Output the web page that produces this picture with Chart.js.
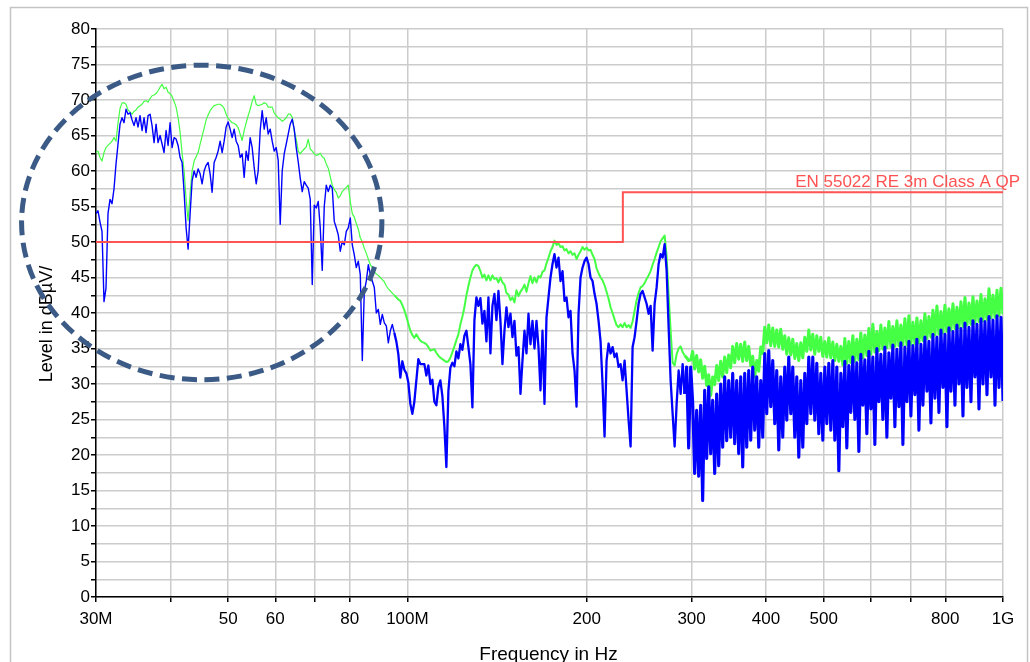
<!DOCTYPE html>
<html>
<head>
<meta charset="utf-8">
<script src="https://cdn.jsdelivr.net/npm/chart.js@4.4.1/dist/chart.umd.min.js"></script>
<style>
  html, body { margin: 0; padding: 0; background: #fff; overflow: hidden; }
  canvas { display: block; }
</style>
</head>
<body>
<canvas id="emc_chart" width="1030" height="662"></canvas>
<script>
/*
    data
        sweep 30 MHz .. 1 GHz, levels in dBuV/m
*/
const sweepStartMHz = 30;
const sweepStopMHz = 1000;

const xTickValues = [30, 40, 50, 60, 70, 80, 100, 200, 300, 400, 500, 600, 700, 800, 1000];
const xTickLabels = ['30M', '', '50', '60', '', '80', '100M', '200', '300', '400', '500', '', '', '800', '1G'];

const limitName = 'EN 55022 RE 3m Class A QP';
const limitFreqs = [30, 230, 230, 1000];
const limitLevels = [50, 50, 57, 57];

// dashed ring marking the low band (MHz / dB)
const ringFreqs = [22.5, 90.6];
const ringLevels = [30.6, 74.9];

const traceGreen = [
  62.6, 62.8, 61.9, 61.4, 62.6, 63.3, 63.6, 63.9, 64.2, 64.7,
  64.2, 66.8, 68.8, 69.6, 69.6, 69.4, 68.6, 68.3, 68.0, 68.4,
  68.6, 69.0, 69.2, 69.4, 69.8, 69.9, 69.7, 70.2, 70.6, 70.7,
  70.9, 71.3, 71.8, 72.2, 71.6, 71.8, 71.1, 70.9, 70.5, 69.8,
  69.0, 67.5, 65.5, 62.5, 60.0, 56.0, 53.0, 56.8, 60.0, 61.4,
  62.0, 62.6, 63.8, 64.9, 66.0, 67.2, 67.9, 68.5, 68.9, 69.2,
  69.3, 69.4, 69.4, 69.2, 68.8, 68.0, 67.4, 67.1, 66.8, 66.7,
  66.5, 66.1, 65.2, 64.3, 65.7, 66.8, 67.8, 68.7, 69.8, 70.6,
  69.4, 69.2, 69.3, 69.4, 69.6, 69.5, 69.0, 69.0, 69.0, 68.2,
  67.8, 67.5, 67.3, 67.0, 67.2, 67.5, 68.0, 68.0, 67.6, 65.7,
  64.5, 62.8, 62.4, 62.8, 63.1, 63.4, 64.5, 63.1, 62.8, 62.4,
  62.2, 62.3, 62.5, 62.0, 61.8, 61.0, 60.4, 59.2, 58.0, 57.4,
  57.0, 56.2, 56.5, 57.1, 57.4, 57.7, 58.0, 55.7, 54.0, 53.5,
  52.6, 51.8, 50.6, 50.0, 49.1, 48.4, 47.6, 46.8, 46.4, 45.8,
  45.5, 45.3, 45.0, 44.7, 44.4, 43.8, 43.4, 43.1, 42.8, 42.5,
  42.2, 41.9, 41.7, 41.1, 40.4, 39.5, 38.5, 37.5, 36.9, 36.5,
  37.0, 36.5, 36.1, 35.9, 35.8, 35.6, 35.2, 34.7, 34.8, 34.9,
  34.4, 34.0, 33.7, 33.5, 33.3, 33.1, 33.2, 33.7, 34.5, 35.3,
  36.2, 37.0, 38.4, 39.5, 40.8, 42.5, 43.8, 45.0, 46.0, 46.5,
  46.8, 46.6, 45.9, 45.0, 45.4, 44.6, 45.3, 44.6, 45.3, 44.8,
  44.9, 44.3, 45.0, 44.3, 44.0, 42.8, 42.6, 41.8, 42.2, 41.5,
  43.2, 42.4, 43.0, 43.4, 44.0, 43.0, 44.2, 45.2, 44.2, 45.0,
  44.3, 45.2, 45.0, 45.8, 46.0, 47.0, 47.8, 48.7, 49.3, 50.2,
  49.6, 49.8, 49.3, 49.4, 48.8, 49.0, 48.4, 48.7, 48.2, 48.4,
  47.6, 48.2, 48.7, 49.3, 48.9, 49.2, 48.8, 48.9, 48.2, 47.6,
  46.3, 45.6, 45.0, 44.6, 43.9, 43.0, 42.0, 40.8, 40.0, 39.1,
  38.3, 38.0, 38.4, 38.0, 38.6, 38.0, 38.3, 37.9, 38.8, 40.3,
  41.8, 42.8, 43.6, 43.8, 44.2, 44.8, 45.3, 45.9, 46.8, 47.6,
  48.5, 49.3, 50.1, 50.5, 50.9, 48.0, 42.5, 37.5, 33.0, 32.6,
  34.2, 35.0, 35.3, 34.5, 34.0, 33.7, 33.3, 33.4, 34.6, 32.1,
  34.0, 31.7, 33.4, 30.8, 32.5, 29.8, 31.3, 28.4, 31.0, 29.9,
  32.6, 30.5, 33.2, 31.0, 33.8, 31.6, 34.1, 32.3, 35.3, 33.0,
  35.7, 33.5, 35.6, 33.2, 35.9, 33.3, 35.3, 32.6, 33.9, 31.0,
  33.3, 31.8, 35.2, 34.3, 38.0, 35.8, 38.3, 35.4, 37.9, 35.3,
  37.6, 35.2, 37.7, 34.9, 36.8, 34.2, 36.5, 34.1, 36.3, 33.6,
  35.7, 33.3, 35.8, 33.7, 36.6, 34.6, 37.6, 34.8, 37.0, 34.2,
  36.8, 34.6, 36.6, 33.9, 36.0, 33.8, 36.5, 33.7, 35.9, 33.3,
  35.6, 33.2, 35.3, 32.7, 36.4, 32.9, 36.0, 33.0, 36.8, 33.2,
  36.3, 33.4, 37.2, 33.7, 36.9, 34.0, 37.8, 34.2, 38.4, 34.5,
  37.4, 34.7, 38.3, 34.9, 37.9, 35.1, 38.8, 35.2, 38.1, 35.3,
  38.9, 35.4, 38.3, 35.5, 39.2, 35.5, 39.6, 35.6, 38.7, 35.7,
  39.3, 35.8, 38.9, 36.1, 39.9, 36.4, 39.5, 36.6, 40.4, 36.9,
  41.0, 37.0, 40.2, 37.2, 41.1, 37.4, 40.6, 37.6, 41.3, 37.8,
  40.8, 37.9, 41.6, 38.1, 42.2, 38.3, 41.4, 38.4, 42.3, 38.6,
  41.7, 38.8, 42.6, 38.9, 42.0, 39.1, 43.4, 39.3, 42.5, 39.4,
  43.2, 39.6, 43.5, 39.8
];

const traceBlue = [
  54.0, 54.4, 52.8, 51.5, 41.6, 43.5, 54.0, 56.0, 55.4, 57.5,
  61.0, 63.8, 66.6, 67.5, 66.8, 68.7, 68.0, 68.2, 67.2, 66.4,
  67.5, 66.2, 67.8, 65.7, 67.5, 65.4, 67.8, 68.0, 66.4, 64.0,
  66.6, 64.0, 65.0, 63.8, 62.6, 65.7, 63.6, 66.8, 63.3, 64.7,
  64.5, 63.6, 61.9, 61.2, 57.0, 52.0, 49.0, 54.0, 58.6, 60.0,
  59.1, 60.3, 59.6, 58.2, 60.0, 60.8, 61.2, 59.6, 57.0, 61.2,
  61.9, 62.8, 64.2, 62.6, 64.2, 66.2, 66.9, 65.9, 64.7, 65.9,
  64.2, 63.6, 61.9, 62.4, 59.1, 62.8, 61.5, 64.7, 63.3, 60.5,
  58.2, 60.0, 65.7, 68.5, 65.9, 67.5, 65.2, 65.9, 64.2, 62.8,
  63.3, 61.5, 52.5, 60.0, 62.4, 63.8, 65.2, 66.6, 67.3, 65.9,
  63.3, 61.3, 59.0, 57.1, 58.5, 58.0, 57.6, 56.0, 44.0, 55.2,
  54.8, 55.7, 52.0, 46.0, 55.0, 58.0, 57.1, 58.0, 57.6, 52.9,
  52.0, 51.0, 48.7, 50.1, 49.6, 51.5, 52.0, 53.4, 49.6, 48.2,
  46.4, 47.3, 45.4, 33.3, 43.1, 44.5, 46.8, 45.4, 44.5, 43.6,
  40.0, 40.5, 38.4, 39.8, 38.6, 38.2, 35.8, 37.5, 38.4, 37.2,
  36.0, 34.2, 30.9, 33.2, 32.0, 31.5, 30.2, 27.2, 25.8, 27.5,
  30.5, 33.5, 32.8, 32.8, 32.8, 31.2, 32.6, 30.0, 30.6, 27.5,
  27.0, 29.6, 30.5, 28.3, 24.0, 18.3, 29.0, 32.3, 33.0, 32.5,
  34.6, 33.6, 35.6, 34.8, 36.8, 37.5, 35.2, 32.8, 26.7, 39.0,
  42.2, 41.0, 42.1, 38.5, 40.3, 36.0, 42.2, 34.3, 41.0, 42.7,
  39.0, 43.1, 38.9, 32.8, 37.5, 40.8, 38.0, 39.9, 36.6, 38.9,
  34.0, 35.2, 28.6, 33.3, 37.5, 34.3, 39.9, 35.6, 38.9, 35.0,
  38.9, 35.2, 29.1, 37.5, 27.2, 39.4, 42.2, 45.0, 46.9, 48.3,
  46.4, 47.8, 44.5, 45.9, 41.7, 42.2, 39.4, 40.3, 34.3, 31.9,
  26.8, 39.9, 45.0, 46.4, 47.3, 47.8, 46.9, 45.0, 44.5, 42.7,
  41.3, 38.9, 36.0, 30.0, 22.6, 33.3, 35.7, 34.3, 35.2, 33.8,
  34.3, 32.4, 32.8, 30.5, 33.3, 29.1, 24.9, 21.2, 35.2, 36.6,
  38.9, 41.3, 42.7, 43.1, 42.2, 41.3, 39.9, 41.0, 34.7, 41.3,
  43.6, 46.9, 48.3, 47.8, 49.7, 46.0, 38.0, 30.5, 25.8, 21.2,
  27.2, 31.9, 28.6, 32.8, 28.6, 32.4, 21.0, 32.4, 27.5, 17.4,
  26.3, 17.0, 27.0, 13.6, 29.1, 19.5, 29.6, 20.2, 27.7, 17.4,
  28.6, 18.5, 30.0, 21.1, 31.0, 22.0, 30.5, 22.5, 31.5, 21.6,
  30.5, 20.2, 31.0, 18.3, 31.5, 21.1, 31.9, 22.1, 32.4, 23.5,
  31.0, 21.1, 30.5, 22.5, 34.3, 25.8, 34.7, 26.8, 33.3, 24.4,
  31.9, 20.7, 31.0, 22.5, 32.4, 24.9, 33.8, 25.8, 32.4, 22.5,
  31.0, 19.7, 30.5, 21.1, 31.5, 24.4, 33.8, 25.8, 33.8, 24.9,
  32.9, 23.0, 31.5, 22.1, 32.4, 24.4, 32.9, 23.5, 33.3, 22.1,
  32.4, 17.8, 31.5, 24.0, 33.2, 21.0, 32.6, 26.0, 33.8, 25.0,
  33.0, 20.5, 34.2, 27.0, 33.4, 23.0, 34.6, 26.5, 33.8, 21.5,
  35.0, 27.5, 34.2, 25.0, 35.2, 22.5, 34.4, 28.0, 35.5, 24.0,
  34.9, 26.8, 35.8, 21.5, 35.2, 27.5, 36.0, 25.5, 35.4, 28.5,
  36.3, 23.5, 35.6, 27.0, 36.6, 29.0, 36.0, 24.5, 37.0, 28.0,
  36.6, 26.0, 37.6, 29.5, 37.0, 24.0, 37.9, 29.0, 37.4, 27.0,
  38.3, 30.0, 37.8, 25.5, 38.6, 29.5, 38.0, 27.5, 38.9, 31.0,
  38.4, 26.5, 39.2, 30.0, 38.8, 28.5, 39.5, 31.0, 39.0, 27.0,
  39.6, 29.5, 39.4, 27.6
];

const colorGreen = '#44ff44';
const colorBlue = '#0000ff';
const colorLimit = '#ff5252';
const fontFamily = '"Liberation Sans", Arial, sans-serif';

// above these frequencies the sweep is dense and the trace reads as a band
const busyFromMHz = 95;
const denseFromMHz = 290;

// receiver sweep: points evenly spaced on the log frequency axis
function fnc_sweep_points(levels){
    var points = [];
    var ratio = sweepStopMHz / sweepStartMHz;
    for(var i = 0; i < levels.length; i++){
        points.push({x: sweepStartMHz * Math.pow(ratio, i / (levels.length - 1)), y: levels[i]});
    }
    return points;
}

function fnc_pair_points(freqs, levels){
    var points = [];
    for(var i in freqs){
        points.push({x: freqs[i], y: levels[i]});
    }
    return points;
}

function fnc_trace_width(thin, busy, dense){
    return function(ctx){
        var f = ctx.p0.parsed.x;
        return f >= denseFromMHz ? dense : (f >= busyFromMHz ? busy : thin);
    };
}

var plugin_frame = {
    id: 'frame',
    beforeDraw: function(chart){
        var ctx = chart.ctx;
        ctx.save();
        ctx.fillStyle = '#ffffff';
        ctx.fillRect(0, 0, chart.width, chart.height);
        ctx.strokeStyle = '#c4c4c4';
        ctx.lineWidth = 1.5;
        ctx.strokeRect(10.5, 7.5, 1017, 700);
        ctx.restore();
    }
};

var plugin_marks = {
    id: 'marks',
    afterDraw: function(chart){
        var ctx = chart.ctx;
        var area = chart.chartArea;
        var xs = chart.scales.x;
        var ys = chart.scales.y;

        ctx.save();
        // limit name
        ctx.font = '17px ' + fontFamily;
        ctx.fillStyle = colorLimit;
        ctx.textAlign = 'right';
        ctx.textBaseline = 'alphabetic';
        ctx.fillText(limitName, area.right + 17, ys.getPixelForValue(limitLevels[limitLevels.length - 1]) - 5);

        // axis titles
        ctx.fillStyle = '#000000';
        ctx.textAlign = 'center';
        ctx.font = '19px ' + fontFamily;
        ctx.fillText('Frequency in Hz', (area.left + area.right) / 2 - 1, 660);
        ctx.font = '18px ' + fontFamily;
        ctx.translate(52, (area.top + area.bottom) / 2 + 11);
        ctx.rotate(-Math.PI / 2);
        ctx.fillText('Level in dB\u00b5V/', 0, 0);
        ctx.restore();

        // dashed ring
        var x1 = xs.getPixelForValue(ringFreqs[0]);
        var x2 = xs.getPixelForValue(ringFreqs[1]);
        var y1 = ys.getPixelForValue(ringLevels[0]);
        var y2 = ys.getPixelForValue(ringLevels[1]);
        ctx.save();
        ctx.strokeStyle = '#3b5b86';
        ctx.lineWidth = 5;
        ctx.setLineDash([15, 7.5]);
        ctx.beginPath();
        ctx.ellipse((x1 + x2) / 2, (y1 + y2) / 2, Math.abs(x2 - x1) / 2, Math.abs(y2 - y1) / 2, 0, 0, Math.PI * 2);
        ctx.stroke();
        ctx.restore();
    }
};

var tickFont = {family: fontFamily, size: 17};

var configuration = {
    type: 'line',
    data: {
        datasets: [
            {
                label: limitName,
                data: fnc_pair_points(limitFreqs, limitLevels),
                borderColor: colorLimit,
                borderWidth: 2,
                pointRadius: 0,
                order: 0
            },
            {
                label: 'blue',
                data: fnc_sweep_points(traceBlue),
                borderColor: colorBlue,
                borderWidth: 1.4,
                borderJoinStyle: 'round',
                segment: {borderWidth: fnc_trace_width(1.4, 2.3, 3.1)},
                pointRadius: 0,
                order: 1
            },
            {
                label: 'green',
                data: fnc_sweep_points(traceGreen),
                borderColor: colorGreen,
                borderWidth: 1.2,
                borderJoinStyle: 'round',
                segment: {borderWidth: fnc_trace_width(1.2, 2.0, 3.0)},
                pointRadius: 0,
                order: 2
            }
        ]
    },
    options: {
        responsive: false,
        animation: false,
        devicePixelRatio: 1,
        layout: {padding: {left: 0, right: 27, top: 29, bottom: 0}},
        plugins: {legend: {display: false}, tooltip: {enabled: false}},
        elements: {line: {tension: 0}},
        scales: {
            x: {
                type: 'logarithmic',
                min: sweepStartMHz,
                max: sweepStopMHz,
                afterBuildTicks: function(scale){
                    scale.ticks = xTickValues.map(function(v){ return {value: v}; });
                },
                afterFit: function(scale){ scale.height = 65; },
                ticks: {
                    autoSkip: false,
                    maxRotation: 0,
                    color: '#000000',
                    font: tickFont,
                    padding: 7,
                    callback: function(value, index){ return xTickLabels[index]; }
                },
                grid: {color: '#cccccc', lineWidth: 1.5, tickColor: '#000000', tickLength: 5},
                border: {color: '#000000', width: 1.5}
            },
            y: {
                min: 0,
                max: 80,
                afterFit: function(scale){ scale.width = 96; },
                ticks: {
                    stepSize: 2.5,
                    autoSkip: false,
                    color: '#000000',
                    font: tickFont,
                    padding: 1,
                    callback: function(value){ return value % 5 == 0 ? String(value) : ''; }
                },
                grid: {color: '#cccccc', lineWidth: 1.5, tickColor: '#000000', tickLength: 5},
                border: {color: '#000000', width: 1.5}
            }
        }
    },
    plugins: [plugin_frame, plugin_marks]
};

new Chart(document.getElementById('emc_chart'), configuration);
</script>
</body>
</html>
